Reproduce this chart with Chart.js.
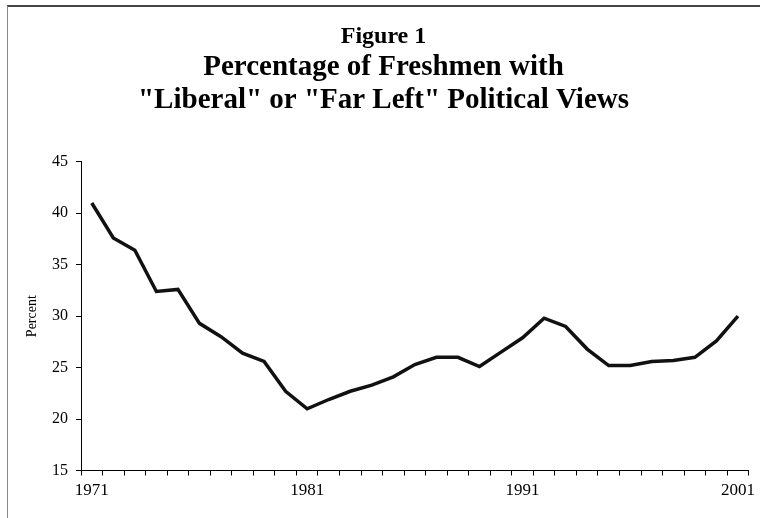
<!DOCTYPE html>
<html>
<head>
<meta charset="utf-8">
<script src="https://cdn.jsdelivr.net/npm/chart.js@4/dist/chart.umd.min.js"></script>
<style>
  html, body { margin: 0; padding: 0; background: #fff; }
  #wrap { position: relative; width: 760px; height: 518px; overflow: hidden; }
  #frame {
    position: absolute; left: 7px; top: 5px; width: 800px; height: 600px;
    border-top: 2px solid #444; border-left: 1px solid #888;
    pointer-events: none;
  }
</style>
</head>
<body>
<div id="wrap">
  <canvas id="chart" width="760" height="518"></canvas>
  <div id="frame"></div>
</div>
<script>
// Survey years and share of freshmen calling themselves liberal / far left
const years = [1971, 1972, 1973, 1974, 1975, 1976, 1977, 1978, 1979, 1980,
  1981, 1982, 1983, 1984, 1985, 1986, 1987, 1988, 1989, 1990,
  1991, 1992, 1993, 1994, 1995, 1996, 1997, 1998, 1999, 2000, 2001];
const percentLiberal = [41.0, 37.6, 36.4, 32.4, 32.6, 29.3, 28.0, 26.4, 25.6, 22.7,
  21.0, 21.9, 22.7, 23.3, 24.1, 25.3, 26.0, 26.0, 25.1, 26.5,
  27.9, 29.8, 29.0, 26.8, 25.2, 25.2, 25.6, 25.7, 26.0, 27.6, 30.0];
const labeledYears = [1971, 1981, 1991, 2001];
const yMin = 15, yMax = 45, yStep = 5;

const figureLabel = 'Figure 1';
const titleLines = ['Percentage of Freshmen with', '"Liberal" or "Far Left" Political Views'];
const yTitle = 'Percent';

const serif = '"Liberation Serif", "Times New Roman", serif';

const ctx = document.getElementById('chart').getContext('2d');
new Chart(ctx, {
  type: 'line',
  data: {
    labels: years,
    datasets: [{
      data: percentLiberal,
      borderColor: '#111',
      borderWidth: 3.5,
      pointRadius: 0,
      tension: 0,
      fill: false
    }]
  },
  options: {
    responsive: false,
    animation: false,
    layout: { padding: { left: 10, right: 3, top: 0, bottom: 0 } },
    plugins: {
      legend: { display: false },
      tooltip: { enabled: false },
      title: {
        display: true,
        text: figureLabel,
        color: '#000',
        font: { family: serif, size: 24, weight: 'bold', lineHeight: 1.2 },
        padding: { top: 22, bottom: 0 }
      },
      subtitle: {
        display: true,
        text: titleLines,
        color: '#000',
        font: { family: serif, size: 29, weight: 'bold', lineHeight: 33 / 29 },
        padding: { top: 0, bottom: 45 }
      }
    },
    scales: {
      x: {
        type: 'category',
        offset: true,
        afterFit: s => { s.height = 47.5; },
        border: { display: true, color: '#000', width: 1 },
        grid: { display: true, offset: true, drawOnChartArea: false, drawTicks: true, tickLength: 5, color: '#000' },
        ticks: {
          autoSkip: false,
          maxRotation: 0,
          padding: 5,
          color: '#000',
          font: { family: serif, size: 17 },
          callback: function (v) {
            const y = this.getLabelForValue(v);
            return labeledYears.includes(Number(y)) ? y : '';
          }
        }
      },
      y: {
        min: yMin,
        max: yMax,
        afterFit: s => { s.width = 71; },
        border: { display: true, color: '#000', width: 1 },
        grid: { display: true, drawOnChartArea: false, drawTicks: true, tickLength: 5, color: '#000' },
        ticks: {
          stepSize: yStep,
          padding: 8,
          color: '#000',
          font: { family: serif, size: 16 }
        },
        title: {
          display: true,
          text: yTitle,
          color: '#000',
          font: { family: serif, size: 14 },
          padding: { top: 14, bottom: 0 }
        }
      }
    }
  }
});
</script>
</body>
</html>
